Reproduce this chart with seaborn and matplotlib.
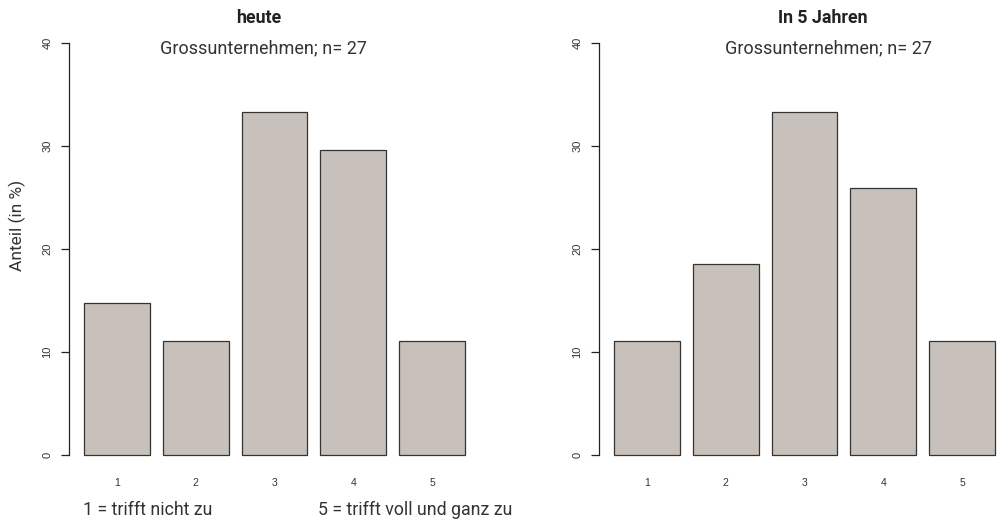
import matplotlib
matplotlib.use("Agg")
import matplotlib.pyplot as plt
import seaborn as sns
import pandas as pd

# Antwortkategorien und Anteile (in %), n = 27
categories = ["1", "2", "3", "4", "5"]
heute = [14.8, 11.1, 33.3, 29.6, 11.1]
in_5_jahren = [11.1, 18.5, 33.3, 25.9, 11.1]
panel_titles = ["heute", "In 5 Jahren"]
subtitle = "Grossunternehmen; n= 27"
y_ticks = [0, 10, 20, 30, 40]

sns.set_style("white")
plt.rcParams["font.family"] = ["Roboto", "DejaVu Sans"]

bar_color = "#c8c1bb"
fig = plt.figure(figsize=(9.97, 5.23), dpi=100)

ax_w = 411 / 997
ax_b = (523 - 471.5) / 523
ax_h = 445 / 523
axes = [fig.add_axes([69 / 997, ax_b, ax_w, ax_h]),
        fig.add_axes([599 / 997, ax_b, ax_w, ax_h])]

for ax, vals in zip(axes, [heute, in_5_jahren]):
    df = pd.DataFrame({"Kategorie": categories, "Anteil": vals})
    sns.barplot(data=df, x="Kategorie", y="Anteil", ax=ax, color=bar_color,
                saturation=1, width=1 / 1.2, edgecolor="#333333", linewidth=0.9)
    ax.set_xlim(-0.61, 4.61)
    ax.set_ylim(-1.6, 41.6)
    ax.set_xlabel("")
    ax.set_ylabel("")
    for s in ["top", "right", "bottom"]:
        ax.spines[s].set_visible(False)
    ax.spines["left"].set_bounds(0, 40)
    ax.spines["left"].set_color("#222222")
    ax.spines["left"].set_linewidth(0.9)
    ax.set_yticks(y_ticks)
    ax.set_yticklabels([str(t) for t in y_ticks], rotation=90, va="center",
                       fontsize=8, family="Liberation Sans", color="#333333")
    ax.tick_params(axis="y", left=True, length=6, width=0.9, color="#222222", pad=6)
    ax.tick_params(axis="x", bottom=False, pad=1)
    for lab in ax.get_xticklabels():
        lab.set_fontsize(7.5)
        lab.set_family("Liberation Sans")
        lab.set_color("#333333")
    ax.set_facecolor("none")

fig.text(259 / 997, 1 - 18 / 523, panel_titles[0], ha="center", va="center",
         fontsize=12.8, fontweight="bold", color="#222222")
fig.text(263 / 997, 1 - 48 / 523, subtitle, ha="center", va="center",
         fontsize=13, color="#333333")
fig.text(823 / 997, 1 - 18 / 523, panel_titles[1], ha="center", va="center",
         fontsize=12.8, fontweight="bold", color="#222222")
fig.text(828 / 997, 1 - 48 / 523, subtitle, ha="center", va="center",
         fontsize=13, color="#333333")

fig.text(17 / 997, 1 - 225 / 523, "Anteil (in %)", rotation=90, ha="center",
         va="center", fontsize=12.5, color="#333333")
fig.text(83 / 997, 1 - 510 / 523, "1 = trifft nicht zu", ha="left",
         va="center", fontsize=12.8, color="#333333")
fig.text(318 / 997, 1 - 510 / 523, "5 = trifft voll und ganz zu", ha="left",
         va="center", fontsize=12.8, color="#333333")

fig.savefig("out.png", dpi=100, facecolor="white")
